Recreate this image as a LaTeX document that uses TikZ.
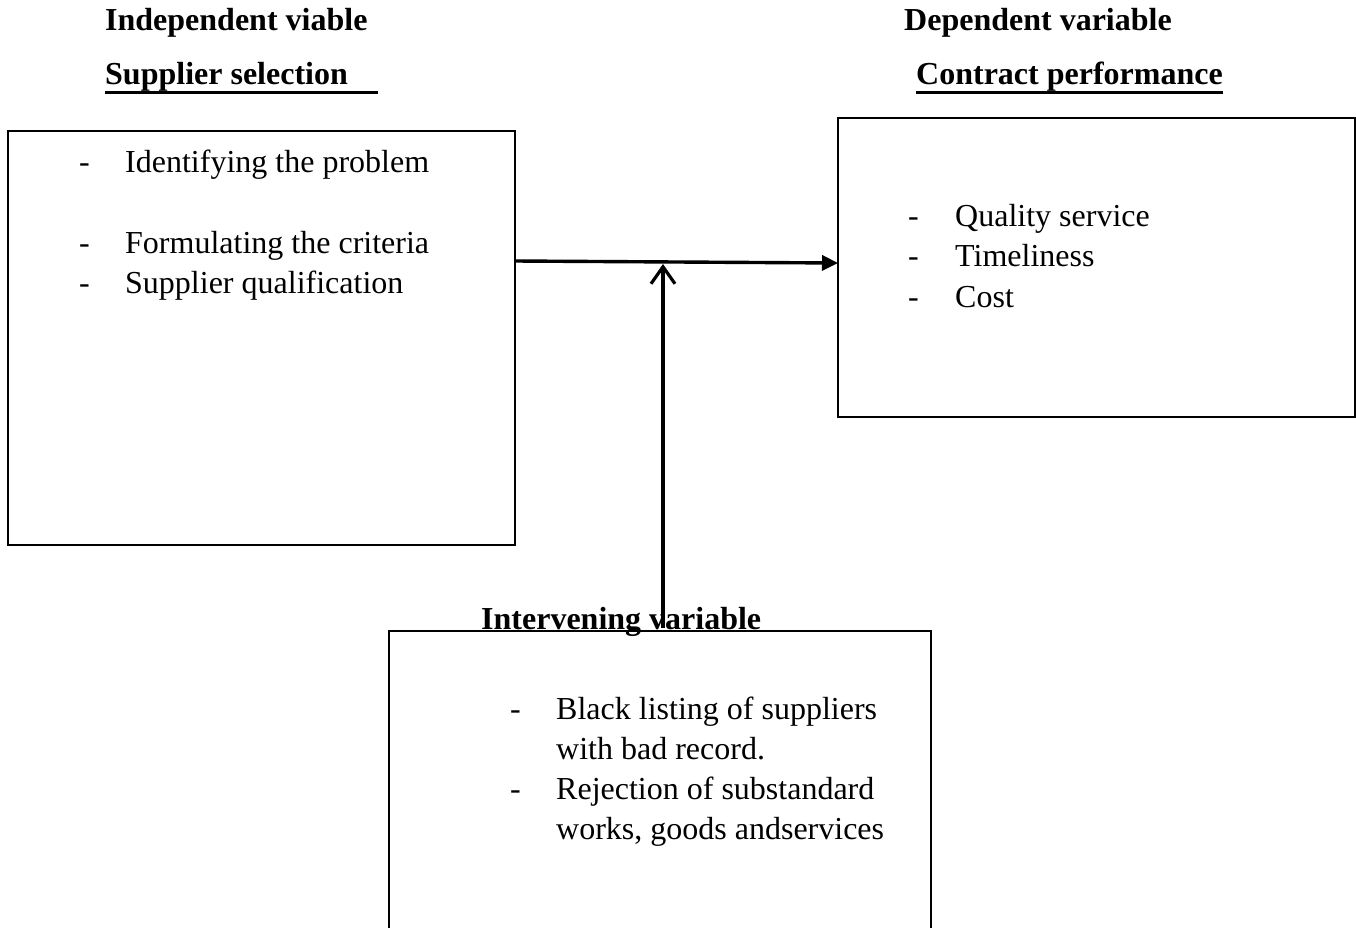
\documentclass[tikz,border=0pt]{standalone}
\usepackage{fontspec}
\setmainfont{Liberation Serif}
\usetikzlibrary{arrows.meta}
\tikzset{
  box/.style={draw, line width=2.8pt, inner sep=0pt, outer sep=0pt, anchor=north west},
  txt/.style={anchor=base west, inner sep=0pt, font=\fontsize{32}{40}\selectfont},
  head/.style={txt, font=\fontsize{32}{40}\selectfont\bfseries},
  uline/.style={line width=3pt},
  conn/.style={line width=3.4pt}
}
\begin{document}
\begin{tikzpicture}[x=1pt,y=-1pt]
\clip (0,0) rectangle (1356,928);
\fill[white] (0,0) rectangle (1356,928);
% headings
\node[head] (h1) at (105,31) {Independent viable};
\node[head] (h2) at (105,85) {Supplier selection};
\node[head] (h3) at (904,31) {Dependent variable};
\node[head] (h4) at (916,85) {Contract performance};
\draw[uline] (h2.base west) ++(0,8) coordinate (u1) -- ++(273,0) coordinate (u2);
\draw[uline] (h4.base west) ++(0,8) coordinate (u3) -- (h4.base east |- u3) coordinate (u4);
% boxes
\node[box, minimum width=507pt, minimum height=414pt] (L) at (8,131) {};
\node[box, minimum width=517pt, minimum height=299pt] (R) at (838,118) {};
\node[box, minimum width=542pt, minimum height=340pt] (B) at (389,631) {};
% left items
\node[txt] (l1d) at (79,172) {-};
\node[txt] (l1) at (125,172) {Identifying the problem};
\node[txt] (l2d) at (79,253) {-};
\node[txt] (l2) at (125,253) {Formulating the criteria};
\node[txt] (l3d) at (79,293) {-};
\node[txt] (l3) at (125,293) {Supplier qualification};
% right items
\node[txt] (r1d) at (908,226) {-};
\node[txt] (r1) at (955,226) {Quality service};
\node[txt] (r2d) at (908,266) {-};
\node[txt] (r2) at (955,266) {Timeliness};
\node[txt] (r3d) at (908,307) {-};
\node[txt] (r3) at (955,307) {Cost};
% bottom items
\node[txt] (b1d) at (510,719) {-};
\node[txt] (b1) at (556,719) {Black listing of suppliers};
\node[txt] (b1b) at (556,759) {with bad record.};
\node[txt] (b2d) at (510,799) {-};
\node[txt] (b2) at (556,799) {Rejection of substandard};
\node[txt] (b2b) at (556,839) {works, goods andservices};
% connectors
\coordinate (a1) at (515,261);
\coordinate (a2) at (838,263);
\draw[conn, -{Triangle[length=16pt,width=15pt]}] (L.east |- a1) -- (R.west |- a2);
\coordinate (v1) at (663,628);
\coordinate (v2) at (663,264);
\draw[conn, -{Straight Barb[length=17pt,width=24pt,line width=3.2pt]}] (v1) -- (v2);
\node[head] (h5) at (481,629) {Intervening variable};
\end{tikzpicture}
\end{document}
